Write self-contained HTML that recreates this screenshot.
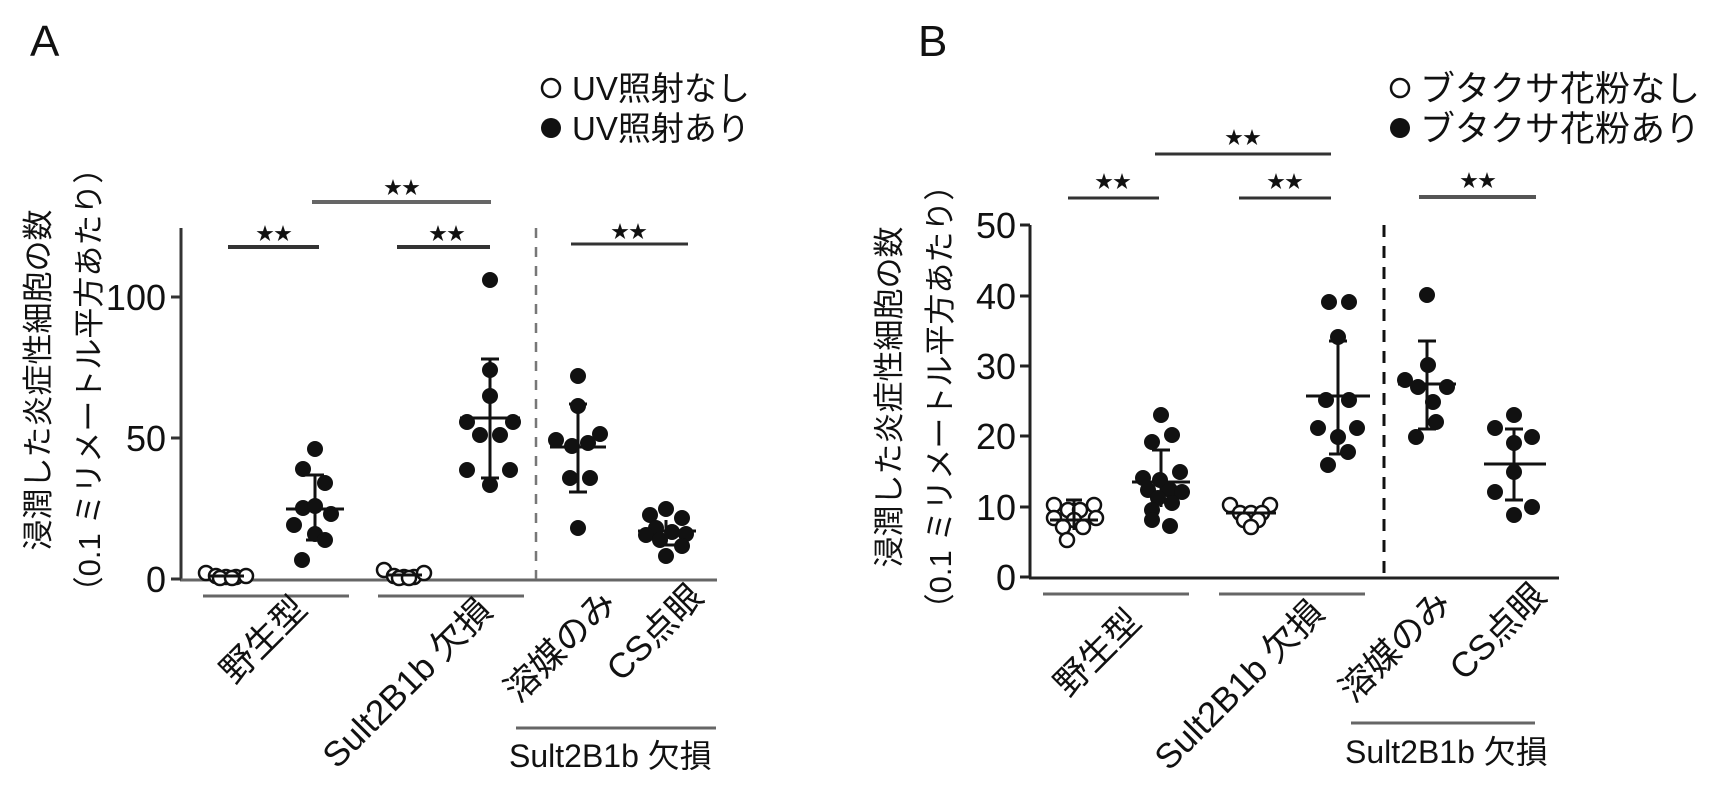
<!DOCTYPE html>
<html><head><meta charset="utf-8"><style>
html,body{margin:0;padding:0;background:#fff}
svg{display:block}
text{font-family:"Liberation Sans","Noto Sans CJK JP",sans-serif;fill:#111}
</style></head><body>
<svg width="1730" height="786" viewBox="0 0 1730 786" xmlns="http://www.w3.org/2000/svg">
<text x="30" y="56" font-size="44">A</text>
<circle cx="551" cy="88" r="9" fill="none" stroke="#111" stroke-width="2.5"/>
<text x="572" y="100" font-size="33">UV照射なし</text>
<circle cx="551" cy="128" r="10" fill="#111"/>
<text x="572" y="140" font-size="33">UV照射あり</text>

<g transform="translate(38,380) rotate(-90)"><text x="0" y="11" font-size="31" text-anchor="middle">浸潤した炎症性細胞の数</text></g>
<g transform="translate(89,380) rotate(-90)"><text x="0" y="11" font-size="31" text-anchor="middle">（0.1 ミリメートル平方あたり）</text></g>

<g stroke="#333" stroke-width="3" fill="none">
<line x1="181" y1="228" x2="181" y2="580"/>
<line x1="180" y1="580" x2="717" y2="580" stroke="#666"/>
<line x1="171" y1="579" x2="181" y2="579"/>
<line x1="171" y1="438" x2="181" y2="438"/>
<line x1="171" y1="297" x2="181" y2="297"/>
</g>
<text x="166" y="592" font-size="36" text-anchor="end">0</text>
<text x="166" y="451" font-size="36" text-anchor="end">50</text>
<text x="166" y="310" font-size="36" text-anchor="end">100</text>
<line x1="536" y1="228" x2="536" y2="579" stroke="#777" stroke-width="2.5" stroke-dasharray="10,9"/>

<g stroke="#333" stroke-width="4">
<line x1="228" y1="247" x2="319" y2="247"/>
<line x1="397" y1="247" x2="490" y2="247"/>
<line x1="312" y1="202" x2="491" y2="202" stroke="#666"/>
<line x1="571" y1="244" x2="688" y2="244" stroke-width="3"/>
</g>
<g font-size="18" text-anchor="middle">
<text x="274" y="240">★★</text><text x="447" y="240">★★</text>
<text x="402" y="194">★★</text><text x="629" y="238">★★</text>
</g>

<g fill="#fff" stroke="#111" stroke-width="2.5">
<circle cx="206" cy="573" r="7"/><circle cx="216" cy="576" r="7"/><circle cx="226" cy="577" r="7"/><circle cx="236" cy="577" r="7"/><circle cx="246" cy="576" r="7"/><circle cx="220" cy="578" r="7"/><circle cx="232" cy="578" r="7"/>
<circle cx="384" cy="570" r="7"/><circle cx="394" cy="576" r="7"/><circle cx="404" cy="577" r="7"/><circle cx="414" cy="577" r="7"/><circle cx="424" cy="573" r="7"/><circle cx="399" cy="578" r="7"/><circle cx="409" cy="578" r="7"/>
</g>
<g fill="#111">
<circle cx="315" cy="449" r="8"/><circle cx="303" cy="469" r="8"/><circle cx="325" cy="483" r="8"/><circle cx="303" cy="508" r="8"/><circle cx="315" cy="506" r="8"/><circle cx="331" cy="514" r="8"/><circle cx="294" cy="525" r="8"/><circle cx="315" cy="534" r="8"/><circle cx="325" cy="540" r="8"/><circle cx="302" cy="560" r="8"/>
<circle cx="490" cy="280" r="8"/><circle cx="490" cy="370" r="8"/><circle cx="490" cy="396" r="8"/><circle cx="467" cy="422" r="8"/><circle cx="513" cy="422" r="8"/><circle cx="480" cy="435" r="8"/><circle cx="500" cy="435" r="8"/><circle cx="467" cy="470" r="8"/><circle cx="510" cy="470" r="8"/><circle cx="490" cy="485" r="8"/>
<circle cx="578" cy="376" r="8"/><circle cx="578" cy="406" r="8"/><circle cx="556" cy="440" r="8"/><circle cx="600" cy="434" r="8"/><circle cx="572" cy="446" r="8"/><circle cx="588" cy="443" r="8"/><circle cx="570" cy="478" r="8"/><circle cx="590" cy="478" r="8"/><circle cx="578" cy="528" r="8"/>
<circle cx="666" cy="509" r="8"/><circle cx="650" cy="515" r="8"/><circle cx="682" cy="518" r="8"/><circle cx="656" cy="528" r="8"/><circle cx="672" cy="532" r="8"/><circle cx="646" cy="535" r="8"/><circle cx="686" cy="534" r="8"/><circle cx="660" cy="540" r="8"/><circle cx="682" cy="546" r="8"/><circle cx="666" cy="556" r="8"/>
</g>
<g stroke="#111" stroke-width="3">
<line x1="315" y1="475" x2="315" y2="540"/><line x1="286" y1="509" x2="344" y2="509"/><line x1="306" y1="475" x2="324" y2="475"/><line x1="306" y1="540" x2="324" y2="540"/>
<line x1="490" y1="359" x2="490" y2="478"/><line x1="460" y1="418" x2="520" y2="418"/><line x1="481" y1="359" x2="499" y2="359"/><line x1="481" y1="478" x2="499" y2="478"/>
<line x1="578" y1="404" x2="578" y2="492"/><line x1="550" y1="447" x2="606" y2="447"/><line x1="569" y1="404" x2="587" y2="404"/><line x1="569" y1="492" x2="587" y2="492"/>
<line x1="666" y1="520" x2="666" y2="545"/><line x1="638" y1="531" x2="696" y2="531"/><line x1="657" y1="545" x2="675" y2="545"/>
<line x1="208" y1="576" x2="244" y2="576"/><line x1="386" y1="575" x2="422" y2="575"/>
</g>

<g stroke="#666" stroke-width="3">
<line x1="203" y1="596" x2="349" y2="596"/><line x1="378" y1="596" x2="524" y2="596"/><line x1="516" y1="728" x2="716" y2="728"/>
</g>
<g font-size="35" text-anchor="end">
<text transform="translate(309,611) rotate(-45)">野生型</text>
<text transform="translate(494,613) rotate(-45)">Sult2B1b 欠損</text>
<text transform="translate(618,605) rotate(-45)">溶媒のみ</text>
<text transform="translate(705,599) rotate(-45)">CS点眼</text>
</g>
<text x="509" y="767" font-size="32">Sult2B1b 欠損</text>

<text x="918" y="56" font-size="44">B</text>
<circle cx="1400" cy="88" r="9" fill="none" stroke="#111" stroke-width="2.5"/>
<text x="1420" y="101" font-size="35">ブタクサ花粉なし</text>
<circle cx="1400" cy="128" r="10" fill="#111"/>
<text x="1420" y="141" font-size="35">ブタクサ花粉あり</text>

<g transform="translate(889,397) rotate(-90)"><text x="0" y="11" font-size="31" text-anchor="middle">浸潤した炎症性細胞の数</text></g>
<g transform="translate(940,397) rotate(-90)"><text x="0" y="11" font-size="31" text-anchor="middle">（0.1 ミリメートル平方あたり）</text></g>

<g stroke="#222" stroke-width="3" fill="none">
<line x1="1030" y1="225" x2="1030" y2="578"/>
<line x1="1029" y1="578" x2="1559" y2="578"/>
<line x1="1020" y1="577" x2="1030" y2="577"/><line x1="1020" y1="507" x2="1030" y2="507"/><line x1="1020" y1="436" x2="1030" y2="436"/><line x1="1020" y1="366" x2="1030" y2="366"/><line x1="1020" y1="296" x2="1030" y2="296"/><line x1="1020" y1="225" x2="1030" y2="225"/>
</g>
<g font-size="36" text-anchor="end">
<text x="1016" y="590">0</text><text x="1016" y="520">10</text><text x="1016" y="449">20</text><text x="1016" y="379">30</text><text x="1016" y="309">40</text><text x="1016" y="238">50</text>
</g>
<line x1="1384" y1="225" x2="1384" y2="577" stroke="#111" stroke-width="3" stroke-dasharray="12,9"/>

<g stroke="#333" stroke-width="3">
<line x1="1068" y1="198" x2="1159" y2="198"/><line x1="1239" y1="198" x2="1331" y2="198"/>
<line x1="1155" y1="154" x2="1331" y2="154"/><line x1="1419" y1="197" x2="1536" y2="197" stroke-width="4" stroke="#555"/>
</g>
<g font-size="18" text-anchor="middle">
<text x="1113" y="188">★★</text><text x="1285" y="188">★★</text>
<text x="1243" y="144">★★</text><text x="1478" y="187">★★</text>
</g>

<g fill="#fff" stroke="#111" stroke-width="2.5">
<circle cx="1054" cy="505" r="7"/><circle cx="1094" cy="505" r="7"/><circle cx="1068" cy="510" r="7"/><circle cx="1080" cy="510" r="7"/><circle cx="1054" cy="518" r="7"/><circle cx="1074" cy="520" r="7"/><circle cx="1096" cy="518" r="7"/><circle cx="1063" cy="527" r="7"/><circle cx="1083" cy="527" r="7"/><circle cx="1067" cy="540" r="7"/>
<circle cx="1230" cy="505" r="7"/><circle cx="1270" cy="505" r="7"/><circle cx="1240" cy="513" r="7"/><circle cx="1251" cy="513" r="7"/><circle cx="1262" cy="513" r="7"/><circle cx="1244" cy="520" r="7"/><circle cx="1258" cy="520" r="7"/><circle cx="1251" cy="527" r="7"/>
</g>
<g fill="#111">
<circle cx="1161" cy="415" r="8"/><circle cx="1172" cy="435" r="8"/><circle cx="1152" cy="442" r="8"/><circle cx="1180" cy="472" r="8"/><circle cx="1143" cy="478" r="8"/><circle cx="1160" cy="480" r="8"/><circle cx="1148" cy="490" r="8"/><circle cx="1170" cy="490" r="8"/><circle cx="1182" cy="492" r="8"/><circle cx="1158" cy="498" r="8"/><circle cx="1172" cy="503" r="8"/><circle cx="1152" cy="510" r="8"/><circle cx="1152" cy="520" r="8"/><circle cx="1170" cy="526" r="8"/>
<circle cx="1329" cy="302" r="8"/><circle cx="1349" cy="302" r="8"/><circle cx="1338" cy="337" r="8"/><circle cx="1326" cy="400" r="8"/><circle cx="1349" cy="400" r="8"/><circle cx="1318" cy="428" r="8"/><circle cx="1357" cy="428" r="8"/><circle cx="1338" cy="437" r="8"/><circle cx="1348" cy="452" r="8"/><circle cx="1328" cy="465" r="8"/>
<circle cx="1427" cy="295" r="8"/><circle cx="1428" cy="365" r="8"/><circle cx="1405" cy="380" r="8"/><circle cx="1418" cy="387" r="8"/><circle cx="1447" cy="387" r="8"/><circle cx="1433" cy="402" r="8"/><circle cx="1436" cy="422" r="8"/><circle cx="1416" cy="437" r="8"/>
<circle cx="1514" cy="415" r="8"/><circle cx="1495" cy="428" r="8"/><circle cx="1532" cy="437" r="8"/><circle cx="1514" cy="443" r="8"/><circle cx="1514" cy="472" r="8"/><circle cx="1495" cy="492" r="8"/><circle cx="1532" cy="507" r="8"/><circle cx="1514" cy="515" r="8"/>
</g>
<g stroke="#111" stroke-width="3">
<line x1="1074" y1="500" x2="1074" y2="530"/><line x1="1050" y1="520" x2="1098" y2="520"/><line x1="1066" y1="500" x2="1082" y2="500"/>
<line x1="1161" y1="450" x2="1161" y2="507"/><line x1="1132" y1="482" x2="1190" y2="482"/><line x1="1152" y1="450" x2="1170" y2="450"/>
<line x1="1226" y1="513" x2="1276" y2="513"/>
<line x1="1338" y1="341" x2="1338" y2="454"/><line x1="1306" y1="396" x2="1370" y2="396"/><line x1="1329" y1="341" x2="1347" y2="341"/><line x1="1329" y1="454" x2="1347" y2="454"/>
<line x1="1427" y1="341" x2="1427" y2="429"/><line x1="1398" y1="384" x2="1456" y2="384"/><line x1="1418" y1="341" x2="1436" y2="341"/><line x1="1418" y1="429" x2="1436" y2="429"/>
<line x1="1514" y1="429" x2="1514" y2="500"/><line x1="1484" y1="464" x2="1546" y2="464"/><line x1="1505" y1="429" x2="1523" y2="429"/><line x1="1505" y1="500" x2="1523" y2="500"/>
</g>

<g stroke="#666" stroke-width="3">
<line x1="1043" y1="594" x2="1189" y2="594"/><line x1="1219" y1="594" x2="1365" y2="594"/><line x1="1351" y1="723" x2="1535" y2="723"/>
</g>
<g font-size="35" text-anchor="end">
<text transform="translate(1143,624) rotate(-45)">野生型</text>
<text transform="translate(1326,615) rotate(-45)">Sult2B1b 欠損</text>
<text transform="translate(1453,605) rotate(-45)">溶媒のみ</text>
<text transform="translate(1548,598) rotate(-45)">CS点眼</text>
</g>
<text x="1345" y="763" font-size="32">Sult2B1b 欠損</text>
</svg>
</body></html>
